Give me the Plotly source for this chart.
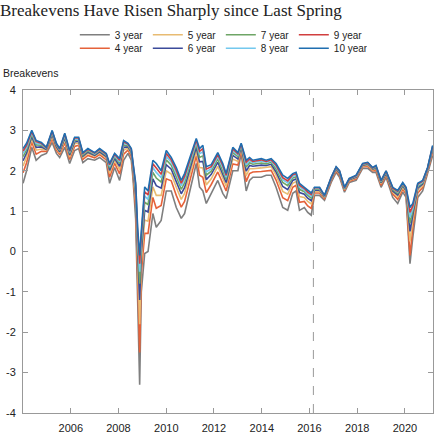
import plotly.graph_objects as go

dates = [
    "2004-01-02", "2004-02-25", "2004-05-14", "2004-07-20", "2004-10-08", "2004-12-24",
    "2005-03-22", "2005-05-26", "2005-07-15", "2005-10-01", "2005-12-15",
    "2006-03-01", "2006-05-01", "2006-07-05", "2006-09-20",
    "2007-01-01", "2007-03-18", "2007-06-28", "2007-08-18", "2007-11-03",
    "2008-01-18", "2008-03-20", "2008-05-25", "2008-07-15", "2008-08-12",
    "2008-09-20", "2008-10-20", "2008-11-20", "2008-12-15",
    "2009-01-10", "2009-02-05", "2009-03-28", "2009-06-10", "2009-08-01", "2009-10-15",
    "2010-01-01", "2010-03-18", "2010-06-03", "2010-08-18", "2010-10-08", "2010-12-25",
    "2011-04-05", "2011-05-25", "2011-07-15", "2011-09-05", "2011-11-20",
    "2012-02-28", "2012-05-15", "2012-07-05", "2012-10-15",
    "2013-01-01", "2013-02-20", "2013-05-08", "2013-06-28", "2013-08-18", "2013-12-25",
    "2014-03-10", "2014-05-25", "2014-08-08", "2014-11-18",
    "2015-02-02", "2015-04-20", "2015-06-10", "2015-08-01", "2015-10-15", "2015-12-05",
    "2016-01-28", "2016-03-18", "2016-06-03", "2016-08-18", "2016-11-28",
    "2017-02-12", "2017-04-05", "2017-06-20", "2017-09-01", "2017-12-15",
    "2018-03-25", "2018-06-10", "2018-08-25", "2018-10-15",
    "2019-01-01", "2019-03-18", "2019-06-28", "2019-09-12", "2019-11-28",
    "2020-01-18", "2020-03-18", "2020-04-30", "2020-07-15", "2020-09-28", "2020-12-12",
    "2021-02-28",
]

y3 = [1.69, 2.00, 2.58, 2.26, 2.38, 2.43, 2.70, 2.43, 2.33, 2.58, 2.18,
      2.50, 2.55, 2.20, 2.30, 2.26, 2.33, 2.20, 1.69, 2.08,
      1.76, 2.26, 2.43, 2.26, 1.76, 0.80, -1.20, -3.30, -1.00,
      -0.60, -0.05, 0.00, 0.94, 0.60, 0.77, 1.50, 1.50, 1.09, 0.82, 0.94, 1.50,
      2.18, 1.60, 1.50, 1.19, 1.45, 1.76, 1.44, 1.31, 2.00,
      2.00, 2.43, 1.50, 1.76, 1.84, 1.84, 1.89, 1.89, 1.59, 1.09,
      1.02, 1.44, 1.50, 1.02, 1.09, 0.97, 0.90, 1.39, 1.39, 1.27, 1.71,
      1.96, 1.84, 1.47, 1.71, 1.76, 2.06, 2.06, 1.96, 1.96,
      1.59, 1.84, 1.34, 1.19, 1.47, 1.34, -0.30, 0.35, 1.34, 1.50, 1.93, 2.38]

y4 = [1.95, 2.20, 2.71, 2.41, 2.48, 2.48, 2.79, 2.51, 2.40, 2.69, 2.28,
      2.60, 2.63, 2.28, 2.38, 2.32, 2.40, 2.27, 1.84, 2.19,
      1.92, 2.41, 2.51, 2.35, 1.89, 1.07, -0.66, -2.50, -0.55,
      -0.12, 0.45, 0.45, 1.34, 1.07, 1.14, 1.80, 1.75, 1.39, 1.10, 1.24, 1.75,
      2.37, 1.89, 1.84, 1.46, 1.66, 1.97, 1.66, 1.50, 2.17,
      2.14, 2.51, 1.73, 1.93, 1.97, 1.98, 2.00, 2.01, 1.77, 1.33,
      1.26, 1.59, 1.64, 1.22, 1.24, 1.13, 1.07, 1.45, 1.45, 1.31, 1.75,
      2.00, 1.89, 1.51, 1.74, 1.80, 2.10, 2.11, 2.00, 2.01,
      1.64, 1.89, 1.42, 1.29, 1.54, 1.42, -0.10, 0.60, 1.45, 1.58, 1.98, 2.46]

y5 = [2.12, 2.34, 2.79, 2.51, 2.54, 2.51, 2.85, 2.56, 2.44, 2.76, 2.34,
      2.67, 2.69, 2.33, 2.43, 2.36, 2.44, 2.32, 1.94, 2.26,
      2.03, 2.51, 2.56, 2.41, 1.97, 1.25, -0.30, -1.80, -0.25,
      0.20, 0.78, 0.75, 1.60, 1.39, 1.39, 2.00, 1.92, 1.59, 1.29, 1.44, 1.92,
      2.49, 2.08, 2.07, 1.65, 1.80, 2.11, 1.81, 1.62, 2.29,
      2.23, 2.56, 1.88, 2.05, 2.05, 2.07, 2.08, 2.10, 1.89, 1.49,
      1.42, 1.69, 1.73, 1.36, 1.34, 1.24, 1.18, 1.49, 1.49, 1.33, 1.78,
      2.03, 1.92, 1.53, 1.76, 1.83, 2.12, 2.14, 2.02, 2.05,
      1.68, 1.92, 1.47, 1.35, 1.59, 1.47, 0.25, 0.77, 1.52, 1.63, 2.01, 2.51]

y6 = [2.25, 2.44, 2.85, 2.58, 2.59, 2.53, 2.90, 2.59, 2.47, 2.81, 2.39,
      2.71, 2.73, 2.36, 2.46, 2.38, 2.47, 2.35, 2.01, 2.31,
      2.11, 2.58, 2.59, 2.45, 2.03, 1.39, -0.03, -1.20, -0.03,
      0.44, 1.02, 0.98, 1.80, 1.63, 1.57, 2.15, 2.04, 1.73, 1.43, 1.58, 2.04,
      2.58, 2.22, 2.23, 1.78, 1.91, 2.21, 1.92, 1.71, 2.38,
      2.29, 2.59, 1.99, 2.13, 2.11, 2.14, 2.13, 2.16, 1.97, 1.61,
      1.53, 1.76, 1.80, 1.46, 1.42, 1.32, 1.26, 1.52, 1.52, 1.35, 1.79,
      2.05, 1.94, 1.55, 1.78, 1.84, 2.14, 2.16, 2.04, 2.07,
      1.70, 1.94, 1.50, 1.40, 1.63, 1.50, 0.50, 0.90, 1.57, 1.67, 2.03, 2.54]

y7 = [2.35, 2.52, 2.90, 2.64, 2.63, 2.55, 2.93, 2.62, 2.50, 2.85, 2.43,
      2.75, 2.77, 2.39, 2.49, 2.41, 2.50, 2.38, 2.07, 2.35,
      2.18, 2.64, 2.62, 2.48, 2.08, 1.49, 0.19, -0.80, 0.16,
      0.63, 1.22, 1.16, 1.96, 1.82, 1.72, 2.27, 2.14, 1.85, 1.54, 1.70, 2.14,
      2.66, 2.33, 2.37, 1.89, 1.99, 2.29, 2.01, 1.79, 2.45,
      2.35, 2.62, 2.09, 2.20, 2.16, 2.19, 2.17, 2.21, 2.04, 1.71,
      1.63, 1.82, 1.85, 1.54, 1.48, 1.39, 1.32, 1.54, 1.54, 1.36, 1.81,
      2.07, 1.96, 1.56, 1.79, 1.86, 2.15, 2.18, 2.05, 2.09,
      1.72, 1.96, 1.53, 1.44, 1.65, 1.53, 0.70, 1.00, 1.61, 1.70, 2.05, 2.57]

y8 = [2.43, 2.58, 2.94, 2.68, 2.66, 2.56, 2.96, 2.65, 2.52, 2.88, 2.46,
      2.78, 2.79, 2.42, 2.52, 2.42, 2.52, 2.40, 2.11, 2.38,
      2.22, 2.68, 2.65, 2.51, 2.12, 1.57, 0.35, -0.50, 0.29,
      0.78, 1.37, 1.29, 2.08, 1.96, 1.83, 2.36, 2.21, 1.94, 1.63, 1.79, 2.21,
      2.71, 2.42, 2.47, 1.97, 2.05, 2.35, 2.08, 1.84, 2.50,
      2.39, 2.65, 2.15, 2.25, 2.20, 2.24, 2.21, 2.24, 2.10, 1.78,
      1.70, 1.86, 1.90, 1.60, 1.52, 1.43, 1.37, 1.56, 1.56, 1.37, 1.82,
      2.08, 1.98, 1.57, 1.80, 1.87, 2.16, 2.19, 2.06, 2.11,
      1.74, 1.98, 1.56, 1.47, 1.68, 1.56, 0.85, 1.07, 1.64, 1.72, 2.06, 2.60]

y9 = [2.49, 2.63, 2.97, 2.72, 2.68, 2.57, 2.98, 2.66, 2.53, 2.91, 2.48,
      2.81, 2.81, 2.43, 2.53, 2.44, 2.53, 2.41, 2.15, 2.41,
      2.26, 2.72, 2.66, 2.53, 2.15, 1.64, 0.47, -0.30, 0.40,
      0.89, 1.48, 1.40, 2.17, 2.07, 1.91, 2.43, 2.27, 2.01, 1.69, 1.86, 2.27,
      2.76, 2.48, 2.55, 2.04, 2.10, 2.40, 2.13, 1.89, 2.54,
      2.42, 2.66, 2.21, 2.29, 2.23, 2.27, 2.23, 2.27, 2.14, 1.83,
      1.75, 1.90, 1.93, 1.64, 1.56, 1.47, 1.41, 1.58, 1.58, 1.38, 1.83,
      2.09, 1.99, 1.58, 1.80, 1.88, 2.17, 2.20, 2.07, 2.12,
      1.75, 1.99, 1.57, 1.49, 1.69, 1.57, 0.97, 1.13, 1.67, 1.74, 2.07, 2.61]

y10 = [2.55, 2.68, 3.00, 2.75, 2.70, 2.58, 3.00, 2.68, 2.55, 2.93, 2.50,
       2.83, 2.83, 2.45, 2.55, 2.45, 2.55, 2.43, 2.18, 2.43,
       2.30, 2.75, 2.68, 2.55, 2.18, 1.70, 0.60, -0.10, 0.50,
       1.00, 1.60, 1.50, 2.26, 2.18, 2.00, 2.50, 2.33, 2.08, 1.76, 1.93, 2.33,
       2.80, 2.55, 2.63, 2.10, 2.15, 2.45, 2.18, 1.93, 2.58,
       2.45, 2.68, 2.26, 2.33, 2.26, 2.30, 2.26, 2.30, 2.18, 1.89,
       1.81, 1.93, 1.96, 1.69, 1.59, 1.51, 1.45, 1.59, 1.59, 1.39, 1.84,
       2.10, 2.00, 1.59, 1.81, 1.89, 2.18, 2.21, 2.08, 2.13,
       1.76, 2.00, 1.59, 1.51, 1.71, 1.59, 1.09, 1.19, 1.69, 1.76, 2.08, 2.63]

series = {
    "3 year": y3, "4 year": y4, "5 year": y5, "6 year": y6,
    "7 year": y7, "8 year": y8, "9 year": y9, "10 year": y10,
}
colors = {
    "3 year": "#7f7f7f", "4 year": "#e5623a", "5 year": "#e8bb72", "6 year": "#3b4a9a",
    "7 year": "#6ea566", "8 year": "#73c8ee", "9 year": "#d13f3f", "10 year": "#1f6eb0",
}
# legend rows: 3,5,7,9 on top, 4,6,8,10 below
legend_of = {
    "3 year": "legend", "5 year": "legend", "7 year": "legend", "9 year": "legend",
    "4 year": "legend2", "6 year": "legend2", "8 year": "legend2", "10 year": "legend2",
}
xticks = ["2006", "2008", "2010", "2012", "2014", "2016", "2018", "2020"]
yticks = [-4, -3, -2, -1, 0, 1, 2, 3, 4]
marker_date = "2016-03-01"

fig = go.Figure()
for name, vals in series.items():
    fig.add_trace(go.Scatter(
        x=dates, y=vals, mode="lines", name=name,
        line=dict(color=colors[name], width=1.6),
        legend=legend_of[name],
    ))

fig.add_shape(type="line", x0=marker_date, x1=marker_date, y0=0, y1=1,
              xref="x", yref="paper",
              line=dict(color="#999999", width=1, dash="dash"))

legend_style = dict(orientation="h", xref="container", yref="container",
                    xanchor="left", x=0.172, yanchor="middle",
                    entrywidth=28, itemwidth=30, tracegroupgap=0,
                    font=dict(family="Liberation Sans", size=10, color="#222"),
                    bgcolor="rgba(0,0,0,0)", traceorder="normal")
fig.update_layout(
    width=435, height=435,
    margin=dict(l=23, r=2, t=90, b=22),
    paper_bgcolor="white", plot_bgcolor="white",
    showlegend=True,
    legend=dict(legend_style, y=0.92),
    legend2=dict(legend_style, y=0.889),
    title=dict(text="Breakevens Have Risen Sharply since Last Spring",
               x=0.0, xanchor="left", y=0.99, yanchor="top", pad=dict(l=0, t=0),
               font=dict(family="Liberation Serif", size=17, color="#222")),
    font=dict(family="Liberation Sans", size=11, color="#222"),
    annotations=[dict(text="Breakevens", x=0, xref="paper", xanchor="left",
                      y=1.053, yref="paper", yanchor="middle",
                      xshift=-22, showarrow=False,
                      font=dict(family="Liberation Sans", size=10.5, color="#222"))],
)
fig.update_xaxes(
    range=["2004-01-01", "2021-03-05"],
    tickvals=[t + "-01-01" for t in xticks], ticktext=xticks,
    ticks="inside", ticklen=5, tickcolor="#999", ticklabelstandoff=5,
    showline=True, linecolor="#999", linewidth=1, mirror="ticks",
    showgrid=False, zeroline=False,
)
fig.update_yaxes(
    range=[-4, 4], tickvals=yticks, ticktext=[str(v) for v in yticks],
    ticks="inside", ticklen=5, tickcolor="#999", ticklabelstandoff=4,
    showline=True, linecolor="#999", linewidth=1, mirror="ticks",
    showgrid=False, zeroline=False,
)

fig.write_html("out.html", config={"displayModeBar": False},
               post_script="document.body.style.margin='0';")
